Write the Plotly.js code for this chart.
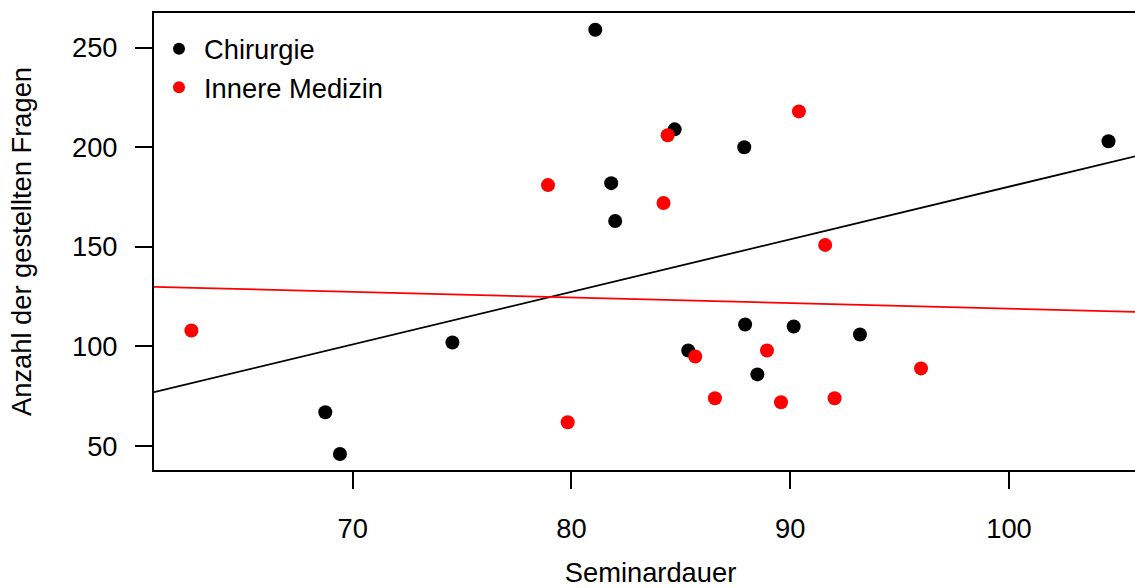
<!DOCTYPE html>
<html>
<head>
<meta charset="utf-8">
<script src="https://cdn.plot.ly/plotly-3.0.1.min.js"></script>
<style>
html, body { margin:0; padding:0; overflow:hidden; background:#fff; }
#chart { width:1160px; height:588px; }
</style>
</head>
<body>
<div id="chart"></div>
<script>
// Chirurgie
var chirurgieDauer = [81.09, 84.72, 87.90, 81.82, 82.00, 104.55, 74.56, 85.34, 87.94, 90.16, 93.19, 88.50, 68.75, 69.42];
var chirurgieFragen = [259, 209, 200, 182, 163, 203, 102, 98, 111, 110, 106, 86, 67, 46];
// Innere Medizin
var innereDauer = [62.63, 78.93, 84.40, 84.21, 90.40, 91.60, 79.83, 85.66, 86.56, 88.94, 89.58, 92.03, 95.98];
var innereFragen = [108, 181, 206, 172, 218, 151, 62, 95, 74, 98, 72, 74, 89];

var seriesNames = ["Chirurgie", "Innere Medizin"];
var xTicks = [70, 80, 90, 100];
var yTicks = [50, 100, 150, 200, 250];
var xRange = [60.92, 106.31];
var yRange = [38.0, 267.4];

function fit(x, y) {
  var n = x.length, mx = 0, my = 0;
  for (var i = 0; i < n; i++) { mx += x[i]; my += y[i]; }
  mx /= n; my /= n;
  var sxy = 0, sxx = 0;
  for (var i = 0; i < n; i++) { sxy += (x[i]-mx)*(y[i]-my); sxx += (x[i]-mx)*(x[i]-mx); }
  var b = sxy / sxx;
  return {a: my - b*mx, b: b};
}
function lineTrace(f, color) {
  return {
    x: [xRange[0], xRange[1]],
    y: [f.a + f.b*xRange[0], f.a + f.b*xRange[1]],
    mode: 'lines', line: {color: color, width: 1.8}, showlegend: false, hoverinfo: 'skip', cliponaxis: true
  };
}
var fC = fit(chirurgieDauer, chirurgieFragen);
var fI = fit(innereDauer, innereFragen);

var font = {family: 'Liberation Sans, Arial, sans-serif', size: 27.3, color: '#000'};

var data = [
  lineTrace(fC, '#000000'),
  lineTrace(fI, '#ff0000'),
  {x: chirurgieDauer, y: chirurgieFragen, mode: 'markers', name: seriesNames[0],
   marker: {color: '#000000', size: 14}},
  {x: innereDauer, y: innereFragen, mode: 'markers', name: seriesNames[1],
   marker: {color: '#ff0000', size: 14}}
];

var layout = {
  width: 1160, height: 588,
  margin: {l: 154, r: 13, t: 13, b: 118},
  paper_bgcolor: '#fff', plot_bgcolor: '#fff',
  font: font,
  showlegend: true,
  legend: {x: 0.0, y: 0.975, xanchor: 'left', yanchor: 'top', bgcolor: 'rgba(0,0,0,0)',
           font: font, itemsizing: 'constant', itemwidth: 40, tracegroupgap: 0},
  xaxis: {
    range: xRange, tickvals: xTicks, ticktext: xTicks.map(String),
    showgrid: false, zeroline: false, showline: true, linecolor: '#000', linewidth: 2,
    mirror: true, ticks: 'outside', ticklen: 17, tickwidth: 2, tickcolor: '#000',
    ticklabelstandoff: 16,
    title: {text: 'Seminardauer', font: font, standoff: 24}
  },
  yaxis: {
    range: yRange, tickvals: yTicks, ticktext: yTicks.map(String),
    showgrid: false, zeroline: false, showline: true, linecolor: '#000', linewidth: 2,
    mirror: true, ticks: 'outside', ticklen: 17, tickwidth: 2, tickcolor: '#000',
    ticklabelstandoff: 12,
    title: {text: 'Anzahl der gestellten Fragen', font: font, standoff: 32}
  }
};

Plotly.newPlot('chart', data, layout, {displayModeBar: false, staticPlot: true});
</script>
</body>
</html>
